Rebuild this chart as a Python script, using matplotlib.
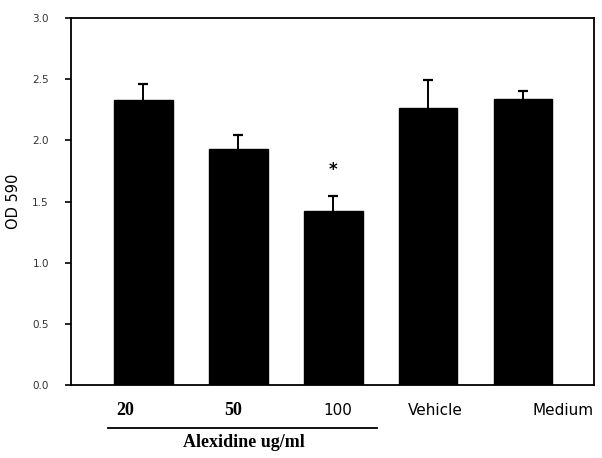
import numpy as np
import matplotlib
matplotlib.use('Agg')
import matplotlib.pyplot as plt

# values
groups = ['20', '50', '100', 'Vehicle', 'Medium']
od_means = [2.33, 1.93, 1.42, 2.26, 2.34]
od_err = [0.13, 0.11, 0.125, 0.23, 0.06]
yticks = [0.0, 0.5, 1.0, 1.5, 2.0, 2.5, 3.0]

# label offsets (in bar units) and font styles as in the original
label_shift = [-0.19, -0.05, 0.05, 0.08, 0.42]
label_bold = [True, True, False, False, False]
label_family = ['Liberation Serif', 'Liberation Serif', 'DejaVu Sans', 'DejaVu Sans', 'DejaVu Sans']
star_bar = 2


def main():
    fig = plt.figure(figsize=(6.02, 4.58), dpi=100)
    ax = fig.add_axes([0.118, 0.159, 0.869, 0.802])

    x = np.arange(len(groups))
    means = np.array(od_means)
    tops = means + np.array(od_err)
    ax.bar(x, means, width=0.62, color='black', edgecolor='black', zorder=3)
    # upper error bars only: stem plus a cap at the top
    ax.vlines(x, means, tops, color='black', lw=1.4, zorder=2)
    ax.hlines(tops, x - 0.05, x + 0.05, color='black', lw=1.6, zorder=2)

    ax.set_xlim(-0.76, 4.75)
    ax.set_ylim(0, 3.0)
    ax.set_yticks(yticks)
    ax.set_yticklabels([f'{v:.1f}' for v in yticks], fontsize=7.5, color='#333333')
    ax.set_xticks([])
    ax.tick_params(axis='y', direction='out', length=4, width=1.2, pad=12)
    for sp in ax.spines.values():
        sp.set_linewidth(1.3)

    ax.set_ylabel('OD 590', fontsize=10.5, labelpad=8)

    # group labels under the bars
    tr = ax.get_xaxis_transform()
    for i, lab in enumerate(groups):
        ax.text(x[i] + label_shift[i], -0.068, lab, transform=tr, ha='center', va='center',
                fontsize=13 if label_bold[i] else 11,
                fontweight='bold' if label_bold[i] else 'normal',
                family=label_family[i])

    # bracket line for the Alexidine doses
    ax.plot([-0.37, 2.46], [-0.117, -0.117], transform=tr, color='black', lw=1.3, clip_on=False)
    ax.text(1.06, -0.157, 'Alexidine ug/ml', transform=tr, ha='center', va='center',
            fontsize=13, fontweight='bold', family='Liberation Serif')

    # significance star
    ax.text(x[star_bar], tops[star_bar] + 0.21, '*',
            ha='center', va='center', fontsize=12, fontweight='bold')

    fig.savefig('out.png', dpi=100)
    plt.close(fig)


if __name__ == '__main__':
    main()
